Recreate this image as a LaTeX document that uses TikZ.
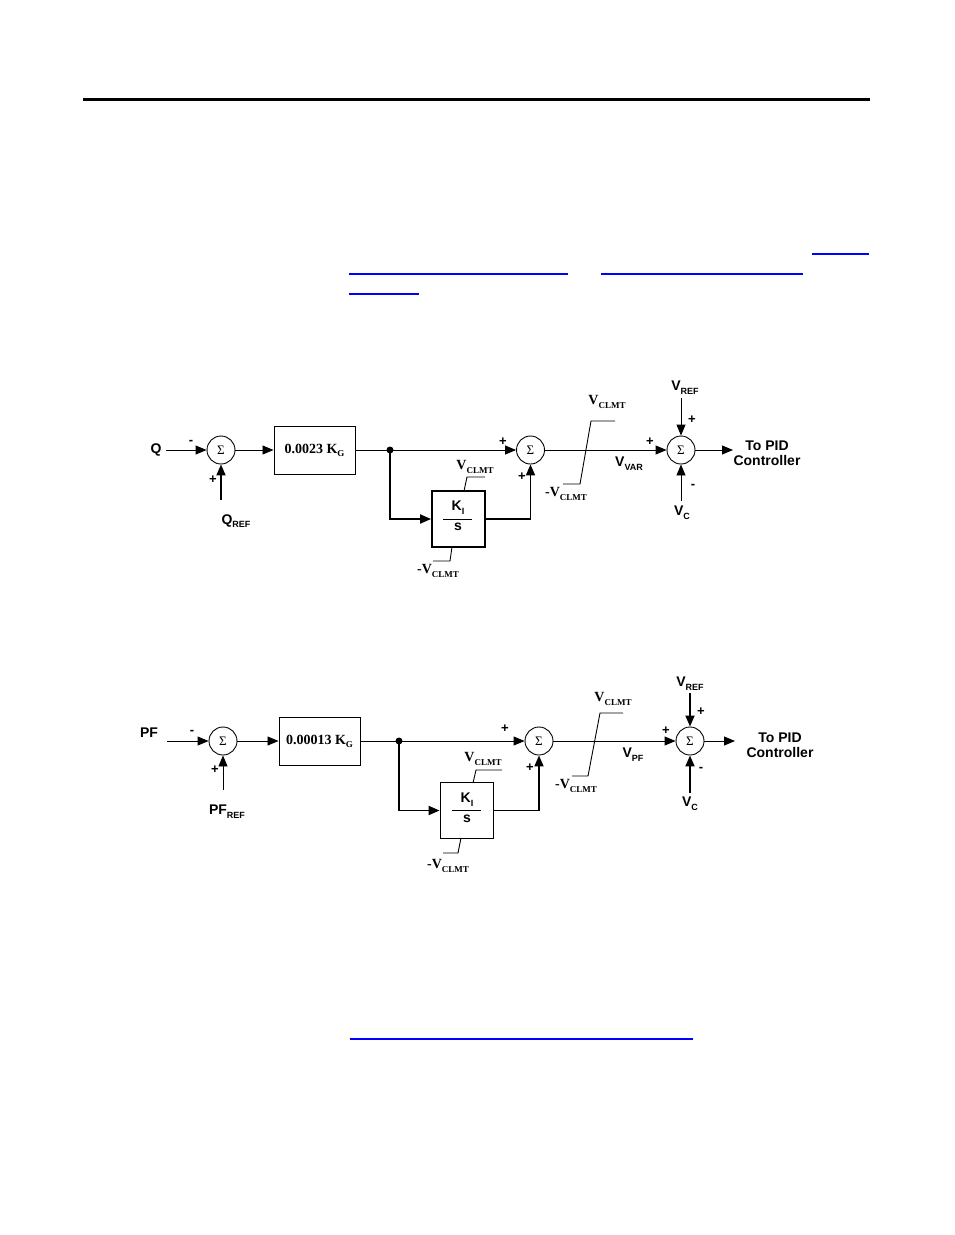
\documentclass[tikz,border=0pt]{standalone}
\usepackage{fontspec}
\setmainfont{Liberation Serif}
\setsansfont{Liberation Sans}
\usetikzlibrary{arrows.meta}
\newcommand{\ssub}[2]{#1\raisebox{-0.5ex}{\fontsize{9}{9}\selectfont #2}}
\begin{document}
\begin{tikzpicture}[x=1pt,y=-1pt,
  sumnode/.style={draw,circle,minimum size=28pt,inner sep=0pt,line width=0.9pt,font=\rmfamily\fontsize{13}{13}\selectfont},
  gainbox/.style={draw,rectangle,minimum width=81pt,minimum height=48pt,line width=1pt,font=\rmfamily\bfseries\fontsize{14}{14}\selectfont},
  intbox/.style={draw,rectangle,minimum width=53pt,minimum height=56pt,line width=1.8pt},
  lbl/.style={font=\sffamily\bfseries\fontsize{14}{15.5}\selectfont,inner sep=0pt},
  sgn/.style={font=\sffamily\bfseries\fontsize{13}{13}\selectfont,inner sep=0pt},
  clmt/.style={font=\rmfamily\bfseries\fontsize{14}{14}\selectfont,inner sep=0pt},
  ln/.style={line width=0.9pt},
  bln/.style={line width=1.8pt},
  arr/.style={-{Triangle[length=11pt,width=9pt]}},
  lim/.style={line width=0.9pt},
  rule/.style={line width=3pt},
  link/.style={blue,line width=1.1pt},
]
\useasboundingbox (0,0) rectangle (954,1235);
% page rules
\draw[rule] (83,99) -- (870,99);
\draw[link] (812,254) -- (869,254);
\draw[link] (349,274) -- (568,274);
\draw[link] (601,274) -- (803,274);
\draw[link] (349,294) -- (419,294);
\draw[link] (350,1039) -- (693,1039);

% ===== Diagram 1 =====
\node[lbl] (q) at (156,450) {Q};
\coordinate (qin) at (166,450);
\node[sumnode] (s1) at (221,450) {Σ};
\draw[ln,arr] (qin) -- (s1.west);
\node[sgn] at (191,442) {-};
\node[sgn] at (213,480) {+};
\coordinate (qref) at (221,500);
\draw[bln,arr] (qref) -- (s1.south);
\node[lbl] (qreflbl) at (236,521) {\ssub{Q}{REF}};
\node[gainbox] (g1) at (314.5,450) {0.0023 \ssub{K}{G}};
\draw[ln,arr] (s1.east) -- (g1.west);
\coordinate (j1) at (390,450);
\fill (j1) circle (3.5);
\draw[ln] (g1.east) -- (j1);
\node[sumnode] (s2) at (530.5,450) {Σ};
\draw[ln,arr] (j1) -- (s2.west);
\node[intbox] (k1) at (458.5,519) {};
\draw[bln,arr] (j1) |- (k1.west);
\draw[bln,arr] (k1.east) -| (s2.south);
\node[lbl] (k1n) at (458,508) {\ssub{K}{I}};
\draw[ln] (443,519) -- (472,519);
\node[lbl] (k1d) at (458,527) {s};
\draw[lim] (464,491) -- (467,477) -- (485,477);
\node[clmt] at (475,467) {\ssub{V}{CLMT}};
\draw[lim] (452,547) -- (450,561) -- (433,561);
\node[clmt] at (438,571) {-\ssub{V}{CLMT}};
\node[sgn] at (503,442) {+};
\node[sgn] at (522,477) {+};
\draw[lim] (563,484) -- (580,484) -- (591,421) -- (615,421);
\node[clmt] at (607,402) {\ssub{V}{CLMT}};
\node[clmt] at (566,494) {-\ssub{V}{CLMT}};
\node[lbl] at (629,464) {\ssub{V}{VAR}};
\node[sumnode] (s3) at (681,450) {Σ};
\draw[ln,arr] (s2.east) -- (s3.west);
\node[sgn] at (650,442) {+};
\coordinate (vref1) at (681,398);
\draw[ln,arr] (vref1) -- (s3.north);
\node[lbl] at (685,388) {\ssub{V}{REF}};
\node[sgn] at (692,420) {+};
\coordinate (vc1) at (681,501);
\draw[ln,arr] (vc1) -- (s3.south);
\node[lbl] at (682,513) {\ssub{V}{C}};
\node[sgn] at (693,486) {-};
\coordinate (out1) at (733,450);
\draw[ln,arr] (s3.east) -- (out1);
\node[lbl,align=center] at (767,453) {To PID\\Controller};

% ===== Diagram 2 =====
\node[lbl] (pf) at (149,733) {PF};
\coordinate (pfin) at (167,741);
\node[sumnode] (t1) at (223,741) {Σ};
\draw[ln,arr] (pfin) -- (t1.west);
\node[sgn] at (192,732) {-};
\node[sgn] at (215,770) {+};
\coordinate (pfref) at (223,790);
\draw[ln,arr] (pfref) -- (t1.south);
\node[lbl] (pfreflbl) at (227,812) {\ssub{PF}{REF}};
\node[gainbox] (g2) at (319.5,741) {0.00013 \ssub{K}{G}};
\draw[ln,arr] (t1.east) -- (g2.west);
\coordinate (j2) at (399,741);
\fill (j2) circle (3.5);
\draw[ln] (g2.east) -- (j2);
\node[sumnode] (t2) at (539,741) {Σ};
\draw[ln,arr] (j2) -- (t2.west);
\node[intbox] (k2) at (467,810.5) {};
\draw[bln,arr] (j2) |- (k2.west);
\draw[bln,arr] (k2.east) -| (t2.south);
\node[lbl] (k2n) at (467,800) {\ssub{K}{I}};
\draw[ln] (452,810) -- (481,810);
\node[lbl] (k2d) at (467,819) {s};
\draw[lim] (473,783) -- (476,770) -- (502,770);
\node[clmt] at (483,759) {\ssub{V}{CLMT}};
\draw[lim] (461,838) -- (458,853) -- (443,853);
\node[clmt] at (448,866) {-\ssub{V}{CLMT}};
\node[sgn] at (505,729) {+};
\node[sgn] at (530,768) {+};
\draw[lim] (572,776) -- (588,776) -- (600,713) -- (623,713);
\node[clmt] at (613,699) {\ssub{V}{CLMT}};
\node[clmt] at (576,786) {-\ssub{V}{CLMT}};
\node[lbl] at (633,755) {\ssub{V}{PF}};
\node[sumnode] (t3) at (690,741) {Σ};
\draw[ln,arr] (t2.east) -- (t3.west);
\node[sgn] at (666,731) {+};
\coordinate (vref2) at (690,693);
\draw[bln,arr] (vref2) -- (t3.north);
\node[lbl] at (690,684) {\ssub{V}{REF}};
\node[sgn] at (701,712) {+};
\coordinate (vc2) at (690,793);
\draw[bln,arr] (vc2) -- (t3.south);
\node[lbl] at (690,804) {\ssub{V}{C}};
\node[sgn] at (701,769) {-};
\coordinate (out2) at (735,741);
\draw[ln,arr] (t3.east) -- (out2);
\node[lbl,align=center] at (780,745) {To PID\\Controller};
\end{tikzpicture}
\end{document}
